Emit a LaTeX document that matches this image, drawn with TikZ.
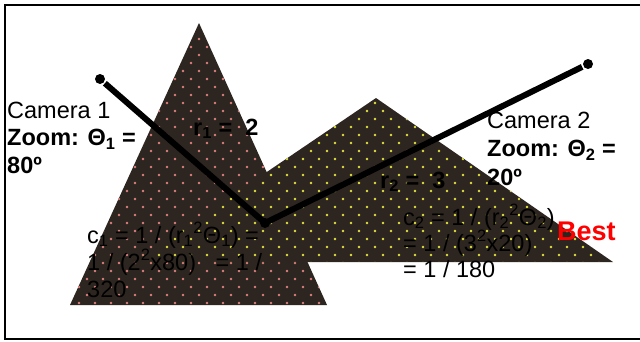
\documentclass[tikz,border=0pt]{standalone}
\usepackage{fontspec}
\setmainfont{Liberation Sans}
\definecolor{ground}{RGB}{45,38,32}
\definecolor{pinkdot}{RGB}{222,128,128}
\definecolor{yellowdot}{RGB}{226,226,64}

\begin{document}
\begin{tikzpicture}[x=1pt,y=-1pt,
  beam/.style={line width=6pt,line join=round},
  eye/.style={circle,fill=black,inner sep=0pt,minimum size=10pt,outer sep=1.5pt},
  txt/.style={anchor=base west,inner sep=0pt,align=left,font=\fontsize{23.5}{#1}\selectfont},
  txt/.default=27.5]
\useasboundingbox (0,0) rectangle (640,341);
\begin{scope}
  \clip (0,0) rectangle (640,341);
  \draw[line width=2pt] (5,5) rectangle (700,339);
\end{scope}
\begin{scope}
  \fill[ground] (199,23) -- (70,305) -- (327,305) -- cycle;
  \clip (199,23) -- (70,305) -- (327,305) -- cycle;
  \foreach \j in {0,...,33}
    \foreach \m in {-9,...,26}
      \fill[pinkdot] ({199+8*(2*\m+mod(\j,2))},{39+8*\j}) circle[radius=1.3pt];
\end{scope}
\begin{scope}
  \fill[ground] (376,98) -- (134,262) -- (613,262) -- cycle;
  \clip (376,98) -- (134,262) -- (613,262) -- cycle;
  \foreach \j in {0,...,33}
    \foreach \m in {-9,...,26}
      \fill[yellowdot] ({199+8*(2*\m+mod(\j,2))},{39+8*\j}) circle[radius=1.3pt];
\end{scope}
\node[eye] (cam1) at (100,79) {};
\node[eye,outer sep=0pt] (joint) at (265,223) {};
\node[eye] (cam2) at (588,64) {};
\draw[beam] (cam1) -- (joint.center) -- (cam2);
\node[txt] (cam1txt) at (7,173) {Camera 1\\\textbf{Zoom: Θ\textsubscript{1} =}\\\textbf{80º}};
\node[txt=28.5] (cam2txt) at (487,185) {Camera 2\\\textbf{Zoom: Θ\textsubscript{2} =}\\\textbf{20º}};
\node[txt] (r1) at (193,135) {\textbf{r\textsubscript{1} =\ \ 2}};
\node[txt] (r2) at (380,188) {\textbf{r\textsubscript{2} =\ \ 3}};
\node[txt=27] (c1) at (87,297) {c\textsubscript{1} = 1 / (r\textsubscript{1}\textsuperscript{2}Θ\textsubscript{1}) =\\1 / (2\textsuperscript{2}x80)\ \ \ = 1 /\\320};
\node[txt=26] (c2) at (403,277) {c\textsubscript{2} = 1 / (r\textsubscript{2}\textsuperscript{2}Θ\textsubscript{2})\\= 1 / (3\textsuperscript{2}x20)\\= 1 / 180};
\node[txt,text=red,font=\fontsize{27}{30}\selectfont\bfseries] (best) at (557,240) {Best};
\end{tikzpicture}
\end{document}
